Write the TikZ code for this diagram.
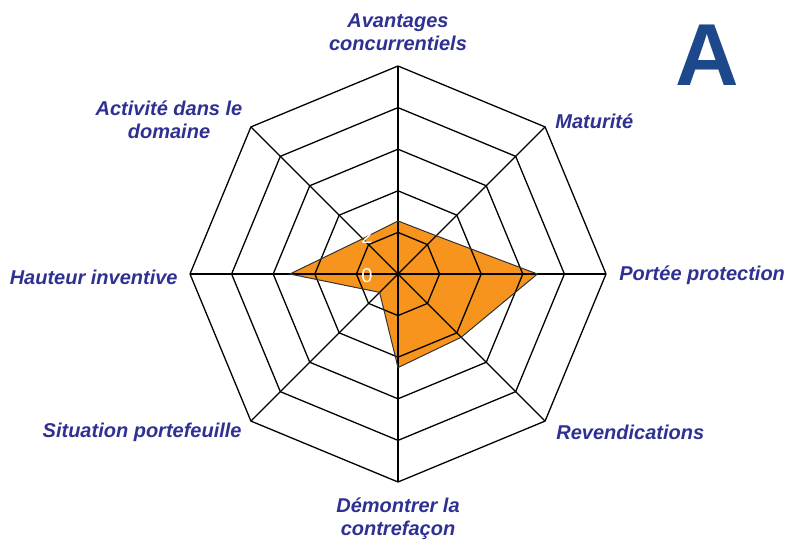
\documentclass[tikz,border=0pt]{standalone}
\usepackage{fontspec}
\setmainfont{Liberation Sans}
\usetikzlibrary{positioning}
\definecolor{AxisBlue}{RGB}{46,49,146}
\definecolor{LetterBlue}{RGB}{30,72,140}
\definecolor{SeriesOrange}{RGB}{247,148,29}

\begin{document}
\begin{tikzpicture}
  [x=0.5pt, y=0.5pt,
   ring/.style={draw=black, line width=0.65pt, line join=miter},
   spoke/.style={draw=black, line width=0.65pt},
   series/.style={fill=SeriesOrange},
   series edge/.style={draw=black!80, line width=0.5pt, line join=miter},
   axis label/.style={font=\bfseries\itshape\fontsize{10}{11.5}\selectfont,
                      text=AxisBlue, align=center, inner sep=0pt},
   tick label/.style={font=\fontsize{10}{12}\selectfont, text=white,
                      inner sep=0pt, anchor=east}]

  \useasboundingbox (0,0) rectangle (787,542);

  \def\RingStep{41.6}
  \def\ChartRadius{208}
  \def\Unit{20.8}
  \coordinate (C) at (398,268);

  \begin{scope}[shift={(C)}]
    % series A
    \path [series] (90:2.55*\Unit) coordinate (av-v) -- (45:2.6*\Unit) coordinate (ma-v)
      -- (0:6.7*\Unit) coordinate (po-v) -- (-45:4.3*\Unit) coordinate (re-v)
      -- (-90:4.5*\Unit) coordinate (de-v) -- (-135:1.25*\Unit) coordinate (si-v)
      -- (180:5.2*\Unit) coordinate (ha-v) -- (135:2.4*\Unit) coordinate (ac-v) -- cycle;

    % grid
    \foreach \k in {1,...,5}
      \draw [ring] (0:\k*\RingStep) \foreach \a in {45,90,...,315} { -- (\a:\k*\RingStep) } -- cycle;
    \foreach \a/\n in {90/av,45/ma,0/po,-45/re,-90/de,-135/si,180/ha,135/ac}
      \draw [spoke] (0,0) -- (\a:\ChartRadius) coordinate (\n);

    \draw [series edge] (av-v) -- (ma-v) -- (po-v) -- (re-v) -- (de-v) -- (si-v) -- (ha-v) -- (ac-v) -- cycle;

    \node [tick label] (tick0) at (-25,-2) {0};
    \node [tick label] (tick2) at (-25,\RingStep-4) {2};

    % axis labels
    \node [axis label] (av-l) at (0,242) {Avantages\\concurrentiels};
    \node [axis label, anchor=west] (ma-l) at (157,153) {Maturité};
    \node [axis label, anchor=west] (po-l) at (221,-1) {Portée protection};
    \node [axis label, anchor=west] (re-l) at (158,-158) {Revendications};
    \node [axis label] (de-l) at (0,-245) {Démontrer la\\contrefaçon};
    \node [axis label, anchor=east] (si-l) at (-156,-158) {Situation portefeuille};
    \node [axis label, anchor=east] (ha-l) at (-220,-3) {Hauteur inventive};
    \node [axis label] (ac-l) at (-229,154) {Activité dans le\\domaine};
  \end{scope}

  \node [font=\bfseries\fontsize{44}{44}\selectfont, text=LetterBlue, inner sep=0pt] (panel) at (707,487) {A};
\end{tikzpicture}
\end{document}
